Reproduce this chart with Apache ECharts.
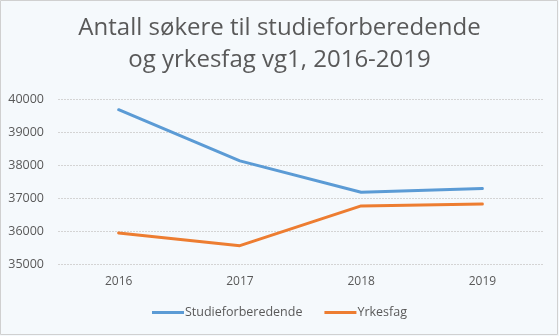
<!DOCTYPE html>
<html>
<head>
<meta charset="utf-8">
<script src="https://cdn.jsdelivr.net/npm/echarts@6/dist/echarts.min.js"></script>
<style>
html,body{margin:0;padding:0;background:#f5f9fc;}
#c{width:559px;height:336px;}
</style>
</head>
<body>
<div id="c"></div>
<script>
const categories = ['2016', '2017', '2018', '2019'];
const studie = [39675, 38125, 37175, 37285];
const yrkesfag = [35940, 35555, 36760, 36820];
const yTicks = [35000, 36000, 37000, 38000, 39000, 40000];

const chart = echarts.init(document.getElementById('c'));
chart.setOption({
  backgroundColor: '#f5f9fc',
  animation: false,
  title: {
    text: 'Antall søkere til studieforberedende\nog yrkesfag vg1, 2016-2019',
    left: 'center',
    top: 7,
    textStyle: {
      fontFamily: 'Open Sans',
      fontSize: 24,
      fontWeight: 'normal',
      color: '#595959',
      lineHeight: 32
    }
  },
  graphic: [{
    type: 'rect',
    shape: {x: 0.5, y: 0.5, width: 557, height: 334},
    style: {fill: 'none', stroke: '#d0d0d0', lineWidth: 1},
    silent: true
  }],
  grid: {left: 58, right: 16, top: 99, bottom: 72},
  legend: {
    bottom: 12,
    left: 'center',
    itemWidth: 32,
    itemHeight: 3,
    itemGap: 22,
    icon: 'rect',
    textStyle: {fontFamily: 'Open Sans', fontSize: 12.5, color: '#595959', padding: [0,0,0,-4]},
    data: ['Studieforberedende', 'Yrkesfag']
  },
  xAxis: {
    type: 'category',
    data: categories,
    boundaryGap: true,
    axisLine: {show: false},
    axisTick: {show: false},
    axisLabel: {fontFamily: 'Open Sans', fontSize: 12, color: '#595959', margin: 12}
  },
  yAxis: {
    type: 'value',
    min: yTicks[0],
    max: yTicks[yTicks.length - 1],
    interval: 1000,
    axisLine: {show: false},
    axisTick: {show: false},
    axisLabel: {fontFamily: 'Open Sans', fontSize: 12.5, color: '#595959', margin: 14, formatter: v => String(v)},
    splitLine: {lineStyle: {color: '#d4d4d4', type: [2, 1], width: 1}}
  },
  series: [
    {
      name: 'Studieforberedende',
      type: 'line',
      data: studie,
      symbol: 'none',
      lineStyle: {color: '#5B9BD5', width: 3, cap: 'round'},
      itemStyle: {color: '#5B9BD5'}
    },
    {
      name: 'Yrkesfag',
      type: 'line',
      data: yrkesfag,
      symbol: 'none',
      lineStyle: {color: '#ED7D31', width: 3, cap: 'round'},
      itemStyle: {color: '#ED7D31'}
    }
  ]
});
</script>
</body>
</html>
